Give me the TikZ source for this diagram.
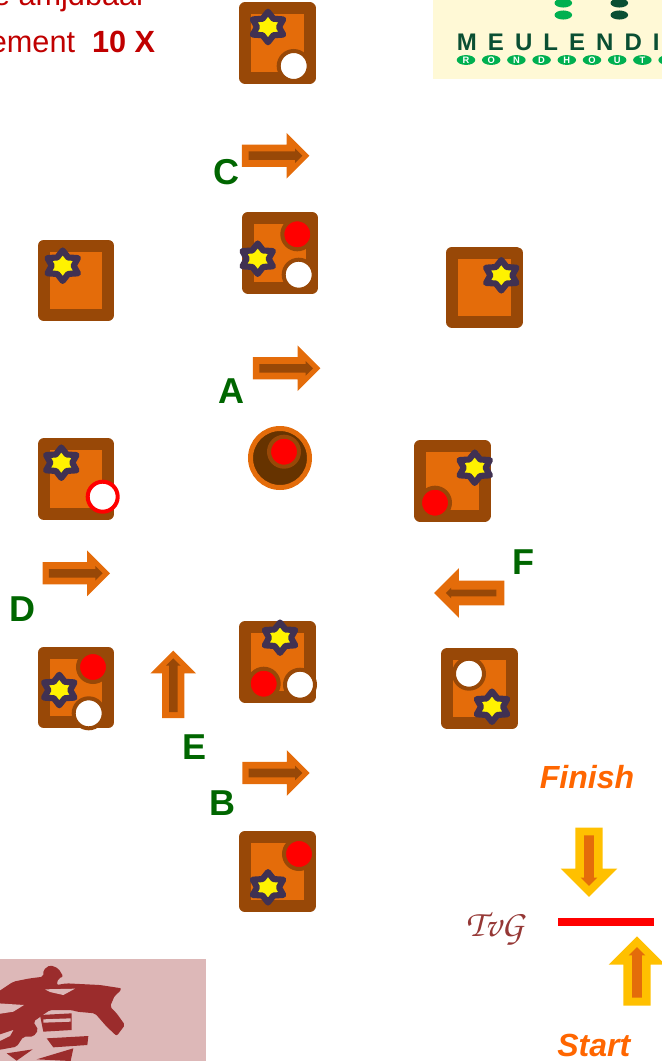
\documentclass[tikz,border=0pt]{standalone}
\usepackage{fontspec}
\setmainfont{Liberation Sans}
\usepackage{xcolor}
\usetikzlibrary{positioning,shapes.geometric,shapes.arrows}
\definecolor{barorange}{HTML}{E46C0A}
\definecolor{barbrown}{HTML}{984807}
\definecolor{pitbrown}{HTML}{663300}
\definecolor{gemblue}{HTML}{403152}
\definecolor{goyellow}{HTML}{FFC000}
\definecolor{textred}{HTML}{C00000}
\definecolor{taggreen}{HTML}{006600}
\definecolor{endorange}{HTML}{FF6600}
\definecolor{logocream}{HTML}{FFF9D6}
\definecolor{logogreen}{HTML}{00B050}
\definecolor{logodark}{HTML}{0A4F33}
\definecolor{horsepink}{HTML}{DDB8B8}
\definecolor{horsered}{HTML}{9B2C2C}
\definecolor{signred}{HTML}{953735}
\tikzset{
  board/.style={rectangle,draw=barbrown,fill=barorange,line width=9pt,line join=round,minimum width=48.4pt,minimum height=52.1pt,inner sep=0pt},
  gem/.style={star,star points=6,star point ratio=1.6,draw=gemblue,fill=yellow,line width=4.6pt,line join=round,minimum size=22.8pt,inner sep=0pt,xscale=1.155,transform shape},
  reddisc/.style={circle,fill=red,draw=barbrown,line width=3pt,minimum size=22.5pt,inner sep=0pt},
  whitedisc/.style={reddisc,fill=white},
  movearrow/.style={single arrow,fill=barorange,anchor=tail,inner xsep=0pt,inner ysep=8.15pt,minimum height=50.6pt,single arrow head extend=8.8pt},
  movecore/.style={single arrow,fill=barbrown,anchor=tail,inner xsep=0pt,inner ysep=3pt,minimum height=40.3pt,single arrow head extend=2.25pt},
  goarrow/.style={single arrow,fill=goyellow,anchor=tail,inner xsep=0pt,inner ysep=10.1pt,minimum height=52pt,single arrow head extend=10.9pt},
  gocore/.style={single arrow,fill=barorange,anchor=tail,inner xsep=0pt,inner ysep=3.4pt,minimum height=38pt,single arrow head extend=2.6pt},
  tag/.style={text=taggreen,font=\fontsize{27}{30}\selectfont\bfseries,inner sep=0pt},
  endtext/.style={text=endorange,font=\fontsize{24}{28}\selectfont\bfseries\itshape,inner sep=0pt,anchor=base},
  logoring/.style={ellipse,fill=logogreen,text=white,font=\fontsize{7}{7}\selectfont\bfseries,inner sep=0pt,minimum width=13.9pt,minimum height=7.4pt},
  logodot/.style={ellipse,inner sep=0pt,minimum width=13.2pt,minimum height=6.8pt}
}
\begin{document}
\begin{tikzpicture}[x=.75pt,y=-.75pt]
\useasboundingbox (0,0) rectangle (661,1061);

\fill[logocream] (432.7,-2) rectangle (663,78.7);
\node[logodot,fill=logogreen] (dot1) at (563.3,3) {};
\node[logodot,fill=logogreen] (dot2) at (563.3,15) {};
\node[logodot,fill=logodark] (dot3) at (619.3,3) {};
\node[logodot,fill=logodark] (dot4) at (619.3,15) {};
\node[anchor=base west,inner sep=0pt,text=logodark,font=\fontsize{18}{20}\selectfont\bfseries\addfontfeature{LetterSpace=46}] (logoname) at (456.7,50) {MEULENDI};
\node[logoring] (ring1) at (466,60) {R};
\node[logoring,right=4.6pt of ring1] (ring2) {O};
\node[logoring,right=4.6pt of ring2] (ring3) {N};
\node[logoring,right=4.6pt of ring3] (ring4) {D};
\node[logoring,right=4.6pt of ring4] (ring5) {H};
\node[logoring,right=4.6pt of ring5] (ring6) {O};
\node[logoring,right=4.6pt of ring6] (ring7) {U};
\node[logoring,right=4.6pt of ring7] (ring8) {T};
\node[logoring,right=4.6pt of ring8] (ring9) {};

\node[anchor=base east,inner sep=0pt,text=textred,font=\fontsize{23}{26}\selectfont] (rule1) at (146.7,5) {e amjdbaar};
\node[anchor=base east,inner sep=0pt,text=textred,font=\fontsize{23}{26}\selectfont] (rule2) at (155.5,52.7) {ement~~\textbf{10 X}};

\node[board] (box1) at (277.3,43) {};
\node[gem] (star1) at (268,27) {};
\node[whitedisc] (white1) at (293.7,66) {};

\node[board] (box2) at (280,252.8) {};
\node[reddisc] (red2) at (297.3,234.3) {};
\node[whitedisc] (white2) at (298.7,274.7) {};
\node[gem] (star2) at (257.7,258.7) {};

\node[board] (box3) at (76,280.3) {};
\node[gem] (star3) at (62.7,265.7) {};

\node[board] (box4) at (484.3,287.3) {};
\node[gem] (star4) at (501.3,275.3) {};

\node[board] (box5) at (452.3,480.8) {};
\node[reddisc] (red5) at (435,502.7) {};
\node[gem] (star5) at (474.7,467.7) {};

\node[board] (box6) at (76,479.2) {};
\node[gem] (star6) at (61.3,462.7) {};
\node[whitedisc,draw=red] (white6) at (102.7,496.7) {};

\node[board] (box7) at (76,687.5) {};
\node[reddisc] (red7) at (93,667) {};
\node[whitedisc] (white7) at (88.7,713.3) {};
\node[gem] (star7) at (59.3,690) {};

\node[board] (box8) at (277.3,661.8) {};
\node[reddisc] (red8) at (263.7,683.7) {};
\node[whitedisc] (white8) at (300,684.7) {};
\node[gem] (star8) at (280,637.7) {};

\node[board] (box9) at (277.3,871.5) {};
\node[reddisc] (red9) at (299,854) {};
\node[gem] (star9) at (268,887.3) {};

\node[board] (box10) at (479.7,688.5) {};
\node[whitedisc] (white10) at (469,673.7) {};
\node[gem] (star10) at (492,706.7) {};

\node[circle,fill=pitbrown,draw=barorange,line width=3.75pt,minimum size=44.25pt,inner sep=0pt] (pit) at (280,458) {};
\node[reddisc] (redpit) at (284,451.7) {};

\node[movearrow] (arrowC) at (241.7,155.7) {};
\node[movecore] (coreC) at (248.3,155.7) {};
\node[movearrow] (arrowA) at (252.7,368.3) {};
\node[movecore] (coreA) at (259,368.3) {};
\node[movearrow] (arrowD) at (42.3,573.3) {};
\node[movecore] (coreD) at (48.6,573.3) {};
\node[movearrow] (arrowB) at (242,773) {};
\node[movecore] (coreB) at (248.3,773) {};
\node[movearrow,rotate=90] (arrowE) at (173.3,718.3) {};
\node[movecore,rotate=90] (coreE) at (173.3,712.3) {};
\node[movearrow,rotate=180,minimum height=52.8pt,inner ysep=9pt,single arrow head extend=9.4pt] (arrowF) at (504.7,593) {};
\node[movecore,rotate=180,minimum height=38pt,inner ysep=2.4pt,single arrow head extend=1.4pt] (coreF) at (496.7,593) {};

\node[tag] (tagC) at (226,171.7) {C};
\node[tag] (tagA) at (231,391) {A};
\node[tag] (tagD) at (22.5,609) {D};
\node[tag] (tagE) at (194.5,747) {E};
\node[tag] (tagB) at (222,803.3) {B};
\node[tag] (tagF) at (523,562) {F};

\node[endtext] (finish) at (587,788.3) {Finish};
\node[endtext] (start) at (593.8,1056.7) {Start};
\node[goarrow,rotate=270] (goin) at (589,827.3) {};
\node[gocore,rotate=270] (goincore) at (589,835) {};
\node[goarrow,rotate=90] (goout) at (637,1006) {};
\node[gocore,rotate=90] (gooutcore) at (637,998) {};

\coordinate (lineL) at (558,922);
\coordinate (lineR) at (654,922);
\draw[red,line width=6pt] (lineL) -- (lineR);
\node[text=signred,inner sep=0pt,font=\fontencoding{OT1}\fontfamily{pzc}\fontseries{m}\fontshape{it}\fontsize{28}{30}\selectfont] (sign) at (495,929) {TvG};

\fill[horsepink] (-2,959) rectangle (206,1063);
\begin{scope}[shift={(0,950)},x=.25pt,y=-.25pt]
\fill[horsered,rounded corners=1.5pt] (-5,125) -- (40,95) -- (90,85) -- (130,80) -- (130,60) -- (150,45) -- (175,55) -- (190,80) -- (175,85) -- (170,105) -- (200,100) -- (300,105) -- (365,115) -- (355,130) -- (345,135) -- (330,170) -- (350,190) -- (375,225) -- (350,258) -- (320,230) -- (285,190) -- (230,185) -- (215,180) -- (150,180) -- (100,215) -- (115,240) -- (100,260) -- (70,260) -- (50,290) -- (-5,300) -- cycle;
\fill[horsered] (120,195) -- (215,190) -- (215,240) -- (130,245) -- cycle;
\fill[horsered] (140,265) -- (265,258) -- (262,285) -- (160,292) -- cycle;
\fill[horsered] (110,328) -- (220,295) -- (212,333) -- cycle;
\fill[horsered] (20,310) -- (98,298) -- (50,332) -- cycle;
\fill[horsepink] (135,118) -- (225,116) -- (190,135) -- (150,126) -- cycle;
\fill[horsepink] (-5,160) -- (72,165) -- (40,185) -- (-5,192) -- cycle;
\fill[horsepink] (130,208) -- (212,205) -- (212,215) -- (130,218) -- cycle;
\fill[horsepink] (-5,255) -- (40,240) -- (30,258) -- (-5,275) -- cycle;
\end{scope}
\end{tikzpicture}
\end{document}
